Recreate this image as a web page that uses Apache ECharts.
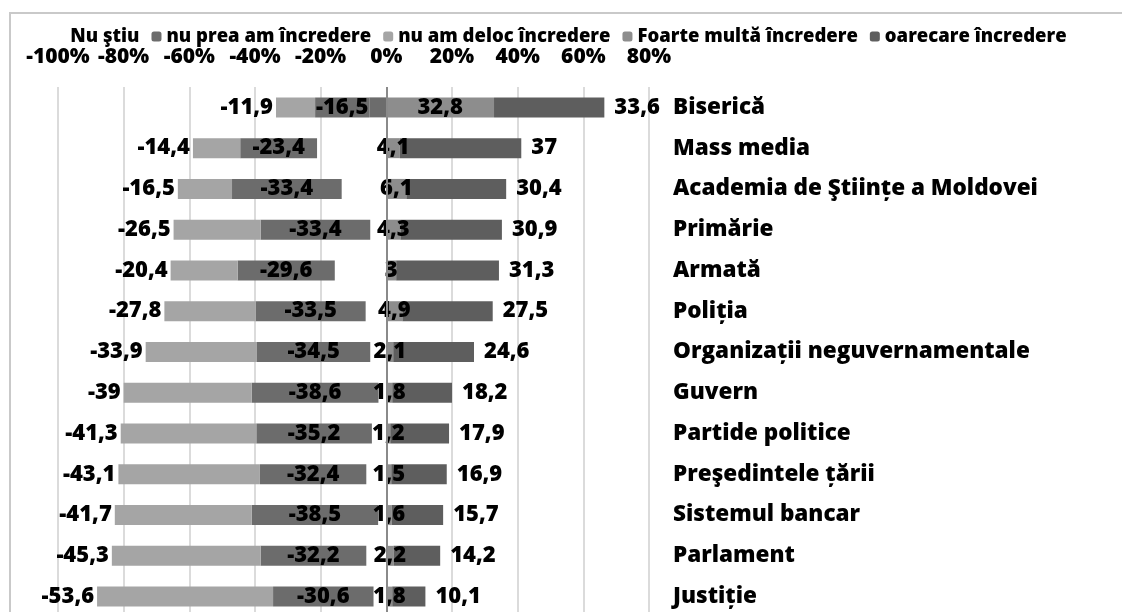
<!DOCTYPE html>
<html>
<head>
<meta charset="utf-8">
<script src="https://cdn.jsdelivr.net/npm/echarts@6/dist/echarts.min.js"></script>
<style>
html,body{margin:0;padding:0;background:#fff;}
#frame{position:absolute;left:9px;top:12px;width:1113px;height:600px;border-left:2px solid #c9c9c9;border-top:2px solid #c9c9c9;}
#chart{position:absolute;left:0;top:0;width:1122px;height:612px;}
</style>
</head>
<body>
<div id="frame"></div>
<div id="chart"></div>
<script>
const categories = ["Biserică","Mass media","Academia de Ştiințe a Moldovei","Primărie","Armată","Poliția","Organizații neguvernamentale","Guvern","Partide politice","Preşedintele țării","Sistemul bancar","Parlament","Justiție"];
const nuStiu   = [-5.2,-21.1,-13.6,-4.9,-15.7,-6.3,-4.9,-2.4,-4.4,-6.1,-2.5,-6.1,-3.9];
const nuPrea   = [-16.5,-23.4,-33.4,-33.4,-29.6,-33.5,-34.5,-38.6,-35.2,-32.4,-38.5,-32.2,-30.6];
const nuDeloc  = [-11.9,-14.4,-16.5,-26.5,-20.4,-27.8,-33.9,-39,-41.3,-43.1,-41.7,-45.3,-53.6];
const foarte   = [32.8,4.1,6.1,4.3,3,4.9,2.1,1.8,1.2,1.5,1.6,2.2,1.8];
const oarecare = [33.6,37,30.4,30.9,31.3,27.5,24.6,18.2,17.9,16.9,15.7,14.2,10.1];
const xTicks = {min:-100, max:80, step:20};
const seriesNames = ["Nu ştiu","nu prea am încredere","nu am deloc încredere","Foarte multă încredere","oarecare încredere"];

const FONT = 'Open Sans';
const W = 800;
const fmt = p => String(p.value).replace('.', ',');
const lbl = (pos, extra) => Object.assign({show:true, position:pos, formatter:fmt, color:'#000', fontFamily:FONT, fontWeight:W, fontSize:22}, extra||{});

const chart = echarts.init(document.getElementById('chart'), null, {renderer:'canvas'});
chart.setOption({
  animation:false,
  legend:{
    top:22, left:'center', itemWidth:10, itemHeight:10, itemGap:12,
    textStyle:{fontFamily:FONT, fontWeight:W, fontSize:18.5, color:'#000'},
    data:seriesNames
  },
  grid:{left:58, width:591, top:87, height:530, containLabel:false, outerBoundsMode:'none'},
  xAxis:{
    type:'value', position:'top', min:xTicks.min, max:xTicks.max, interval:xTicks.step,
    axisLine:{show:false}, axisTick:{show:false},
    axisLabel:{formatter:'{value}%', margin:19, color:'#000', fontFamily:FONT, fontWeight:W, fontSize:21},
    splitLine:{lineStyle:{color:'#cfcfcf', width:1.5}}
  },
  yAxis:{
    type:'category', position:'right', inverse:true, data:categories,
    axisLine:{show:false}, axisTick:{show:false}, splitLine:{show:false},
    axisLabel:{align:'left', margin:24, color:'#000', fontFamily:FONT, fontWeight:W, fontSize:22.5}
  },
  series:[
    {name:seriesNames[0], type:'bar', stack:'t', barWidth:20,
     itemStyle:{color:'rgba(255,255,255,0)'},
     data:nuStiu.map((v,i)=> i===0 ? {value:v, itemStyle:{color:'#6c6c6c'}} : v),
     markLine:{silent:true, symbol:'none', label:{show:false}, lineStyle:{color:'#8a8a8a', width:2, type:'solid'}, data:[{xAxis:0}]}
    },
    {name:seriesNames[1], type:'bar', stack:'t', barWidth:20, itemStyle:{color:'#6c6c6c'}, label:lbl('inside'), data:nuPrea},
    {name:seriesNames[2], type:'bar', stack:'t', barWidth:20, itemStyle:{color:'#a5a5a5'}, label:lbl('left',{distance:3}), data:nuDeloc},
    {name:seriesNames[3], type:'bar', stack:'t', barWidth:20, itemStyle:{color:'#8d8d8d'}, label:lbl('inside'), data:foarte},
    {name:seriesNames[4], type:'bar', stack:'t', barWidth:20, itemStyle:{color:'#5e5e5e'}, label:lbl('right',{distance:10}), data:oarecare}
  ]
});
</script>
</body>
</html>
